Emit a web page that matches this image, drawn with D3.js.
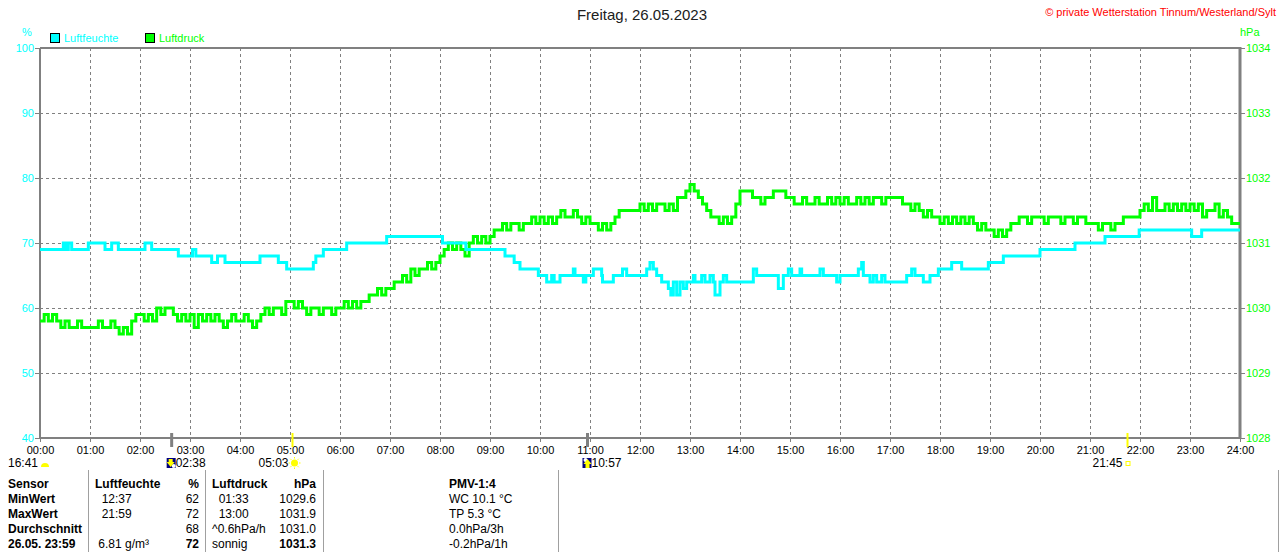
<!DOCTYPE html>
<html lang="de">
<head>
<meta charset="UTF-8">
<title>Freitag, 26.05.2023</title>
<style>
  html, body { margin: 0; padding: 0; background: #fff; }
  svg { display: block; font-family: "Liberation Sans", Arial, sans-serif; }
  .grid line { stroke: #808080; stroke-width: 1; stroke-dasharray: 3,3; }
  .axis path { display: none; }
  .axis line { stroke: #808080; stroke-width: 1; }
  .axis text { font-size: 11px; }
  .x-axis text { fill: #000; }
  .l-axis text { fill: #00ffff; }
  .r-axis text { fill: #00ff00; }
  .frame { stroke: #808080; fill: none; }
  .tbl text { font-size: 12px; fill: #000; }
  .tbl .b { font-weight: bold; }
  .sep { stroke: #a0a0a0; stroke-width: 1; }
</style>
<script src="https://cdn.jsdelivr.net/npm/d3@7"></script>
</head>
<body>
<script>
  // ---------------- Daten ----------------
  const hourLabels = d3.range(0, 25).map(h => String(h).padStart(2, '0') + ':00');
  const humTicks = [40, 50, 60, 70, 80, 90, 100];
  const presTicks = [1028, 1029, 1030, 1031, 1032, 1033, 1034];

  // Luftfeuchte (%), Stufenwechsel
  const humTimes = ['00:00','00:28','00:31','00:34','00:38','00:58','01:18','01:26','01:34','02:06','02:14','02:46',
    '03:03','03:07','03:26','03:33','03:42','04:24','04:46','04:56','05:28','05:31','05:40','06:08','06:56',
    '08:03','08:31','09:18','09:29','09:36','09:58','10:08','10:14','10:17','10:24','10:40','10:42','10:52','10:55',
    '11:04','11:14','11:15','11:28','11:39','11:44','12:08','12:12','12:16','12:20','12:26','12:34','12:37','12:40',
    '12:44','12:48','12:52','12:56','13:04','13:06','13:14','13:18','13:24','13:28','13:30','13:36','13:40','13:44',
    '14:16','14:20','14:46','14:52','14:58','15:02','15:12','15:14','15:36','15:40','15:56','16:00','16:22','16:26',
    '16:28','16:36','16:40','16:44','16:50','16:54','17:20','17:26','17:30','17:40','17:48','17:58','18:14','18:26',
    '18:58','19:16','20:00','20:42','21:18','21:59','23:02','23:14','24:00'];
  const humValues = [69,70,69,70,69,70,69,70,69,70,69,68,
    69,68,67,68,67,68,67,66,67,68,69,70,71,
    70,69,68,67,66,65,64,65,64,65,66,65,64,65,
    66,65,64,65,66,65,66,67,66,65,64,63,62,64,
    62,64,63,64,65,64,65,64,65,64,62,64,65,64,
    66,65,63,65,66,65,66,65,66,65,64,65,66,67,
    65,64,65,64,65,64,65,66,65,64,65,66,67,66,
    67,68,69,70,71,72,71,72,72];

  // Luftdruck (hPa), alle 5 Minuten ab 00:00
  const presValues = [
    1029.8,1029.9,1029.8,1029.9,1029.8,1029.7,1029.8,1029.7,1029.7,1029.8,1029.7,1029.7,
    1029.7,1029.7,1029.8,1029.7,1029.7,1029.8,1029.7,1029.6,1029.7,1029.6,1029.8,1029.9,
    1029.9,1029.8,1029.9,1029.8,1030.0,1029.9,1030.0,1030.0,1029.9,1029.8,1029.9,1029.8,
    1029.9,1029.7,1029.9,1029.8,1029.9,1029.8,1029.9,1029.8,1029.7,1029.8,1029.9,1029.8,
    1029.8,1029.9,1029.8,1029.7,1029.8,1029.9,1030.0,1029.9,1030.0,1030.0,1029.9,1030.1,
    1030.1,1030.0,1030.1,1030.0,1029.9,1030.0,1030.0,1029.9,1030.0,1030.0,1029.9,1030.0,
    1030.0,1030.1,1030.0,1030.1,1030.0,1030.1,1030.1,1030.2,1030.2,1030.3,1030.2,1030.3,
    1030.3,1030.4,1030.4,1030.5,1030.4,1030.6,1030.5,1030.6,1030.6,1030.7,1030.6,1030.7,
    1030.8,1030.9,1031.0,1030.9,1031.0,1030.9,1030.8,1031.0,1031.1,1031.0,1031.1,1031.0,
    1031.1,1031.2,1031.2,1031.3,1031.2,1031.3,1031.3,1031.2,1031.3,1031.3,1031.4,1031.3,
    1031.4,1031.3,1031.4,1031.3,1031.4,1031.5,1031.4,1031.4,1031.5,1031.4,1031.3,1031.4,
    1031.3,1031.3,1031.2,1031.3,1031.2,1031.3,1031.4,1031.5,1031.5,1031.5,1031.5,1031.5,
    1031.6,1031.5,1031.6,1031.5,1031.6,1031.6,1031.5,1031.6,1031.5,1031.7,1031.7,1031.8,
    1031.9,1031.8,1031.7,1031.6,1031.5,1031.4,1031.4,1031.3,1031.4,1031.3,1031.4,1031.6,
    1031.8,1031.8,1031.8,1031.7,1031.7,1031.6,1031.7,1031.7,1031.8,1031.8,1031.8,1031.7,
    1031.7,1031.6,1031.6,1031.7,1031.6,1031.6,1031.7,1031.6,1031.6,1031.7,1031.6,1031.7,
    1031.6,1031.7,1031.6,1031.6,1031.7,1031.6,1031.7,1031.6,1031.7,1031.7,1031.6,1031.7,
    1031.7,1031.7,1031.7,1031.6,1031.6,1031.5,1031.6,1031.5,1031.4,1031.5,1031.4,1031.4,
    1031.3,1031.4,1031.3,1031.4,1031.3,1031.4,1031.3,1031.4,1031.3,1031.2,1031.3,1031.2,
    1031.2,1031.1,1031.2,1031.1,1031.2,1031.3,1031.3,1031.4,1031.4,1031.3,1031.4,1031.4,
    1031.4,1031.3,1031.4,1031.4,1031.4,1031.3,1031.4,1031.4,1031.3,1031.4,1031.4,1031.3,
    1031.3,1031.3,1031.2,1031.3,1031.3,1031.2,1031.3,1031.3,1031.4,1031.4,1031.4,1031.4,
    1031.5,1031.6,1031.5,1031.7,1031.5,1031.5,1031.6,1031.5,1031.6,1031.5,1031.6,1031.5,
    1031.6,1031.5,1031.6,1031.4,1031.5,1031.5,1031.6,1031.4,1031.5,1031.4,1031.3,1031.3,
    1031.3];

  // Mond / Sonne Markierungen
  const markerTimes = ['02:38', '05:03', '10:57', '21:45'];
  const markerTypes = ['moonset', 'sunrise', 'moonrise', 'sunset'];
  const dayLength = '16:41';

  // Tabelle
  const tableRows = [
    ['Sensor', 'Luftfeuchte', '%', 'Luftdruck', 'hPa', 'PMV-1:4'],
    ['MinWert', '  12:37', '62', '  01:33', '1029.6', 'WC 10.1 °C'],
    ['MaxWert', '  21:59', '72', '  13:00', '1031.9', 'TP 5.3 °C'],
    ['Durchschnitt', '', '68', '^0.6hPa/h', '1031.0', '0.0hPa/3h'],
    ['26.05. 23:59', ' 6.81 g/m³', '72', 'sonnig', '1031.3', '-0.2hPa/1h']
  ];

  // ---------------- Layout ----------------
  const width = 1280, height = 552;
  const padLeft = 40, plotRight = 1240, plotTop = 48, plotBottom = 438;
  const toMin = s => { const p = s.split(':'); return +p[0] * 60 + +p[1]; };

  const x = d3.scaleLinear().domain([0, 1440]).range([padLeft, plotRight]);
  const yHum = d3.scaleLinear().domain([40, 100]).range([plotBottom, plotTop]);
  const yPres = d3.scaleLinear().domain([1028, 1034]).range([plotBottom, plotTop]);

  const svg = d3.select('body').append('svg')
    .attr('width', width).attr('height', height);

  // Titel
  svg.append('text').attr('x', 642).attr('y', 20).attr('text-anchor', 'middle')
    .style('font-size', '15px').attr('fill', '#202020').text('Freitag, 26.05.2023');
  svg.append('text').attr('x', 1276).attr('y', 16).attr('text-anchor', 'end')
    .style('font-size', '11px').attr('fill', '#ff0000')
    .text('© private Wetterstation Tinnum/Westerland/Sylt');

  // Einheiten
  svg.append('text').attr('x', 27).attr('y', 36).attr('text-anchor', 'middle')
    .style('font-size', '11px').attr('fill', '#00ffff').text('%');
  svg.append('text').attr('x', 1240).attr('y', 36)
    .style('font-size', '11px').attr('fill', '#00ff00').text('hPa');

  // Legende
  const legend = [['Luftfeuchte', '#00ffff', 50], ['Luftdruck', '#00ff00', 145]];
  legend.forEach(([name, col, lx]) => {
    svg.append('rect').attr('x', lx + 0.5).attr('y', 33.5).attr('width', 9).attr('height', 9)
      .attr('fill', col).attr('stroke', '#000');
    svg.append('text').attr('x', lx + 14).attr('y', 42).style('font-size', '11px')
      .attr('fill', col).text(name);
  });

  // Gitter
  const grid = svg.append('g').attr('class', 'grid');
  grid.selectAll('.vg').data(d3.range(1, 24)).enter().append('line')
    .attr('x1', d => x(d * 60) + 0.5).attr('x2', d => x(d * 60) + 0.5)
    .attr('y1', plotTop).attr('y2', plotBottom);
  grid.selectAll('.hg').data(humTicks.slice(1, -1)).enter().append('line')
    .attr('x1', padLeft).attr('x2', plotRight)
    .attr('y1', d => yHum(d) + 0.5).attr('y2', d => yHum(d) + 0.5);

  // Achsen
  svg.append('g').attr('class', 'axis x-axis')
    .attr('transform', `translate(0,${plotBottom})`)
    .call(d3.axisBottom(x).tickValues(d3.range(0, 25).map(h => h * 60))
      .tickSize(4).tickPadding(4).tickFormat((d, i) => hourLabels[i]));
  svg.append('g').attr('class', 'axis l-axis')
    .attr('transform', `translate(${padLeft},0)`)
    .call(d3.axisLeft(yHum).tickValues(humTicks).tickSize(5).tickPadding(1).tickFormat(d3.format('d')));
  svg.append('g').attr('class', 'axis r-axis')
    .attr('transform', `translate(${plotRight},0)`)
    .call(d3.axisRight(yPres).tickValues(presTicks).tickSize(5).tickPadding(1).tickFormat(d3.format('d')));

  // Rahmen
  svg.append('path').attr('class', 'frame').attr('stroke-width', 2)
    .attr('d', `M${padLeft},${plotTop}H${plotRight}M${padLeft},${plotTop}V${plotBottom + 1}M${padLeft},${plotBottom}H${plotRight}`);
  svg.append('line').attr('class', 'frame').attr('stroke-width', 3)
    .attr('x1', plotRight).attr('x2', plotRight).attr('y1', plotTop - 1).attr('y2', plotBottom + 1);

  // Linien
  const presData = presValues.map((v, i) => ({ t: i * 5, v }));
  const humData = humTimes.map((t, i) => ({ t: toMin(t), v: humValues[i] }));

  svg.append('path').datum(presData)
    .attr('fill', 'none').attr('stroke', '#00ff00').attr('stroke-width', 3)
    .attr('d', d3.line().curve(d3.curveStepAfter).x(d => x(d.t)).y(d => yPres(d.v)));
  svg.append('path').datum(humData)
    .attr('fill', 'none').attr('stroke', '#00ffff').attr('stroke-width', 3)
    .attr('d', d3.line().curve(d3.curveStepAfter).x(d => x(d.t)).y(d => yHum(d.v)));

  // Markierungen Sonne / Mond
  const mk = svg.append('g');
  markerTimes.forEach((t, i) => {
    const mx = x(toMin(t));
    const type = markerTypes[i];
    const isSun = type.startsWith('sun');
    mk.append('line').attr('x1', mx).attr('x2', mx).attr('y1', 433).attr('y2', 447)
      .attr('stroke', isSun ? '#ffff00' : '#808080').attr('stroke-width', isSun ? 2 : 3);
    const ty = 467;
    if (type === 'moonset' || type === 'moonrise') {
      mk.append('rect').attr('x', mx - 5).attr('y', 458).attr('width', 9).attr('height', 10).attr('fill', '#000080');
      mk.append('circle').attr('cx', mx + (type === 'moonset' ? 2 : -2)).attr('cy', type === 'moonset' ? 466 : 460)
        .attr('r', 2).attr('fill', '#ffffff');
      const a = type === 'moonset' ? 'M-3,459h4v3h2l-4,5l-4,-5h2z' : 'M0,459l4,5h-2v4h-4v-4h-2z';
      mk.append('path').attr('d', a).attr('transform', `translate(${mx},0)`).attr('fill', '#ffff00');
      mk.append('text').attr('x', mx + 4).attr('y', ty).style('font-size', '12px').text(t);
    } else if (type === 'sunrise') {
      mk.append('circle').attr('cx', mx + 2).attr('cy', 463).attr('r', 3.5).attr('fill', '#ffff00');
      d3.range(8).forEach(k => {
        const a = k * Math.PI / 4;
        mk.append('line').attr('x1', mx + 2 + Math.cos(a) * 4.5).attr('y1', 463 + Math.sin(a) * 4.5)
          .attr('x2', mx + 2 + Math.cos(a) * 6).attr('y2', 463 + Math.sin(a) * 6)
          .attr('stroke', '#ffff00').attr('stroke-width', 1);
      });
      mk.append('text').attr('x', mx - 4).attr('y', ty).attr('text-anchor', 'end').style('font-size', '12px').text(t);
    } else {
      mk.append('rect').attr('x', mx - 1.5).attr('y', 461.5).attr('width', 4).attr('height', 4)
        .attr('fill', 'none').attr('stroke', '#ffff00');
      mk.append('text').attr('x', mx - 5).attr('y', ty).attr('text-anchor', 'end').style('font-size', '12px').text(t);
    }
  });
  // Tageslaenge
  mk.append('text').attr('x', 8).attr('y', 467).style('font-size', '12px').text(dayLength);
  mk.append('path').attr('d', 'M41,467a4,4 0 0 1 8,0z').attr('fill', '#ffff00');

  // Tabelle
  const tbl = svg.append('g').attr('class', 'tbl');
  [88.5, 205.5, 323.5, 558.5, 1278.5].forEach(sx => {
    tbl.append('line').attr('class', 'sep').attr('x1', sx).attr('x2', sx).attr('y1', 470).attr('y2', height);
  });
  const cols = [[8, 'start'], [95, 'start'], [199, 'end'], [212, 'start'], [316, 'end'], [449, 'start']];
  tableRows.forEach((row, r) => {
    row.forEach((cell, c) => {
      const bold = r === 0 || c === 0 || (r === 4 && (c === 2 || c === 4));
      tbl.append('text').attr('class', bold ? 'b' : null)
        .attr('x', cols[c][0]).attr('y', 488 + r * 15)
        .attr('text-anchor', cols[c][1]).attr('xml:space', 'preserve')
        .style('white-space', 'pre').text(cell);
    });
  });
</script>
</body>
</html>
